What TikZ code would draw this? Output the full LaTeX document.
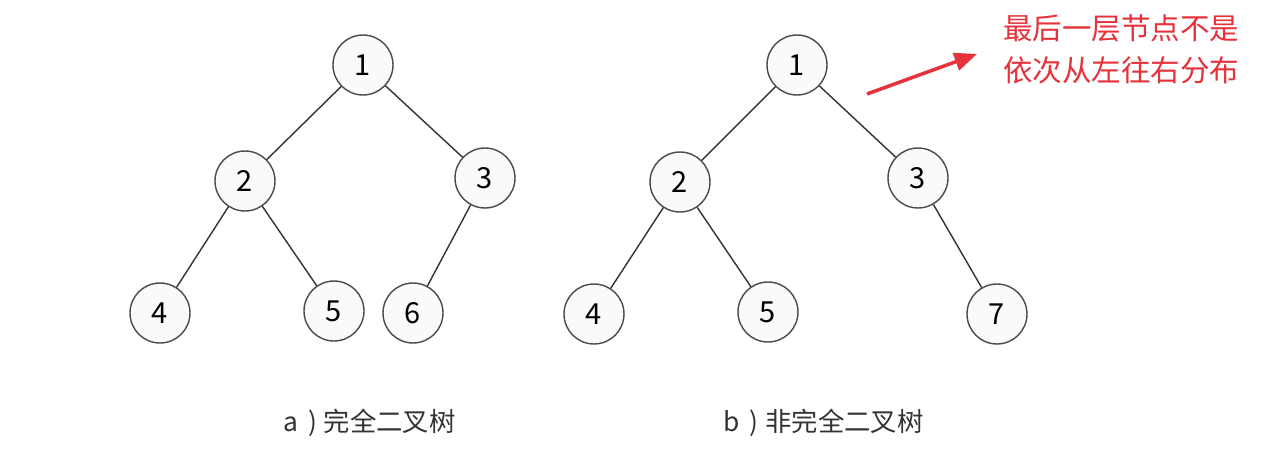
\documentclass[tikz,border=0pt]{standalone}
\usepackage{fontspec}
\setmainfont{Noto Sans CJK SC}
\usetikzlibrary{arrows.meta, positioning}
\definecolor{ink}{HTML}{333333}
\definecolor{rim}{HTML}{4A4A4A}
\definecolor{softgray}{HTML}{FAFAFA}
\definecolor{notered}{HTML}{E5323B}

\begin{document}
\begin{tikzpicture}[
  x=0.02cm, y=-0.02cm,
  tnode/.style={draw=rim, circle, fill=softgray, minimum size=1.2cm,
                inner sep=0pt, line width=0.8pt, font=\fontsize{16.5}{16.5}\selectfont},
  edge/.style={draw=ink, line width=0.8pt},
  caption/.style={font=\fontsize{15}{18}\selectfont, text=ink},
  >={Triangle[length=4.5mm, width=3.6mm]}
]
\useasboundingbox[fill=white] (0,0) rectangle (1282,454);

% complete tree
\node[tnode] (a1) at (363,65)  {1};
\node[tnode] (a2) at (245,181) {2};
\node[tnode] (a3) at (485,178) {3};
\node[tnode] (a4) at (160,313) {4};
\node[tnode] (a5) at (334,311) {5};
\node[tnode] (a6) at (413,313) {6};

\draw[edge] (a1) -- (a2);
\draw[edge] (a1) -- (a3);
\draw[edge] (a2) -- (a4);
\draw[edge] (a2) -- (a5);
\draw[edge] (a3) -- (a6);

% non-complete tree
\node[tnode] (b1) at (797,65)  {1};
\node[tnode] (b2) at (680,182) {2};
\node[tnode] (b3) at (918,178) {3};
\node[tnode] (b4) at (594,314) {4};
\node[tnode] (b5) at (768,312) {5};
\node[tnode] (b7) at (997,314) {7};

\draw[edge] (b1) -- (b2);
\draw[edge] (b1) -- (b3);
\draw[edge] (b2) -- (b4);
\draw[edge] (b2) -- (b5);
\draw[edge] (b3) -- (b7);

% captions
\node[caption, anchor=west] (capa) at (277,423) {a\hspace{0.2cm})\hspace{0.14cm}完全二叉树};
\node[caption, anchor=west] (capb) at (717,423) {b\hspace{0.2cm})\hspace{0.14cm}非完全二叉树};

% note with arrow
\node[align=left, text=notered, font=\fontsize{16.8}{24}\selectfont,
      anchor=west] (note) at (997,49) {最后一层节点不是\\依次从左往右分布};
\coordinate (tail) at (867,94);
\coordinate (tip)  at (977,54);
\draw[->, notered, line width=2pt] (tail) -- (tip);
\end{tikzpicture}
\end{document}
